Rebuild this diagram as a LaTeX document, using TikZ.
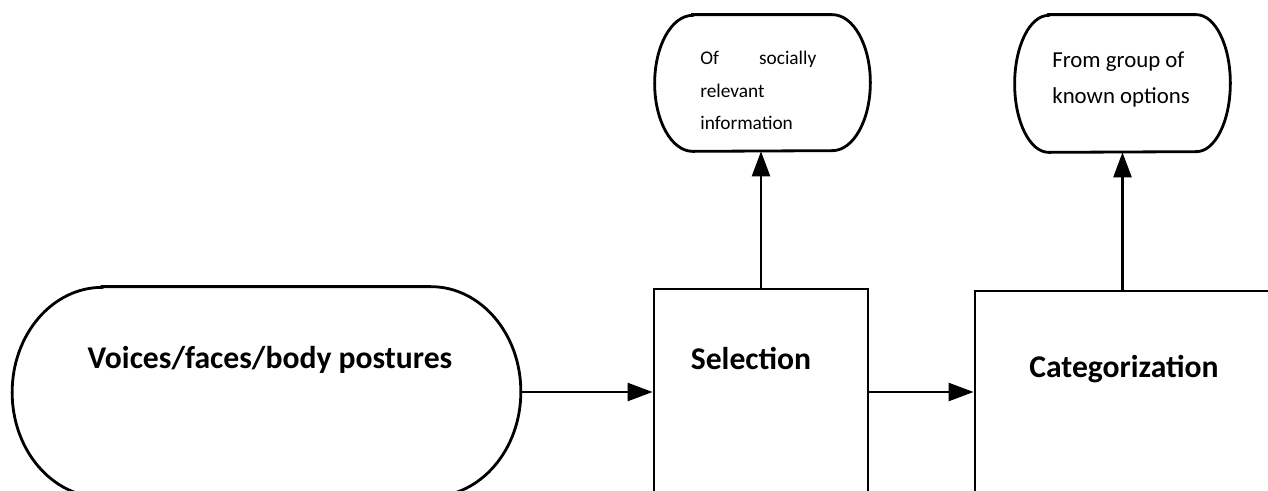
\documentclass[tikz,border=0pt]{standalone}
\usepackage{fontspec}
\setmainfont{Carlito}
\usepackage{tikz}
\usetikzlibrary{arrows.meta,positioning,calc}

\begin{document}
\begin{tikzpicture}[
    box/.style={draw,line width=1.6pt,rectangle,inner sep=0pt},
    term/.style={rectangle,inner sep=0pt},
    outline/.style={line width=1.6pt},
    title/.style={anchor=base,font=\fontsize{18}{21}\selectfont\bfseries},
    note/.style={anchor=north west,inner sep=0pt,align=left},
    flow/.style={line width=1.4pt,-{Triangle[length=0.5cm,width=0.36cm]}}
  ]
    \useasboundingbox (0,0) rectangle (25.36,9.8);
    \clip (0,0) rectangle (25.36,9.8);

    \node[term,minimum width=10.16cm,minimum height=4.2cm] at (5.33,1.96) (voices) {};
    \node[box,minimum width=4.28cm,minimum height=4.24cm] at (15.22,1.90) (sel) {};
    \node[box,minimum width=6.3cm,minimum height=4.16cm] at (22.65,1.90) (cat) {};
    \node[term,minimum width=4.3cm,minimum height=2.72cm] at (15.25,8.14) (info) {};
    \node[term,minimum width=4.3cm,minimum height=2.74cm] at (22.45,8.13) (options) {};

    % terminal outlines with half-ellipse ends
    \foreach \n/\rx/\ry in {voices/1.8/2.1,info/0.76/1.36,options/0.68/1.37} {
      \draw[outline] ([xshift=\rx cm]\n.north west) -- ([xshift=-\rx cm]\n.north east)
        arc[start angle=90,end angle=-90,x radius=\rx cm,y radius=\ry cm]
        -- ([xshift=\rx cm]\n.south west)
        arc[start angle=270,end angle=90,x radius=\rx cm,y radius=\ry cm] -- cycle;
    }

    \node[title] at (5.40,2.44) (voicestext) {Voices/faces/body postures};
    \node[title] at (15.02,2.42) (seltext) {Selection};
    \node[title] at (22.48,2.26) (cattext) {Categorization};

    \node[note,text width=66pt,font=\fontsize{11}{18.4}\selectfont] at (14.0,8.78) (infotext)
      {Of\hfill socially\\relevant\\information};
    \node[note,font=\fontsize{13}{20.5}\selectfont] at (21.04,8.78) (optionstext)
      {From group of\\known options};

    \draw[flow] (voices.east) -- (voices.east -| sel.west);
    \draw[flow] (sel.east |- voices.east) -- (cat.west |- voices.east);
    \draw[flow] (sel.north) -- (sel.north |- info.south);
    \draw[flow] (options.south |- cat.north) -- (options.south);
\end{tikzpicture}
\end{document}
